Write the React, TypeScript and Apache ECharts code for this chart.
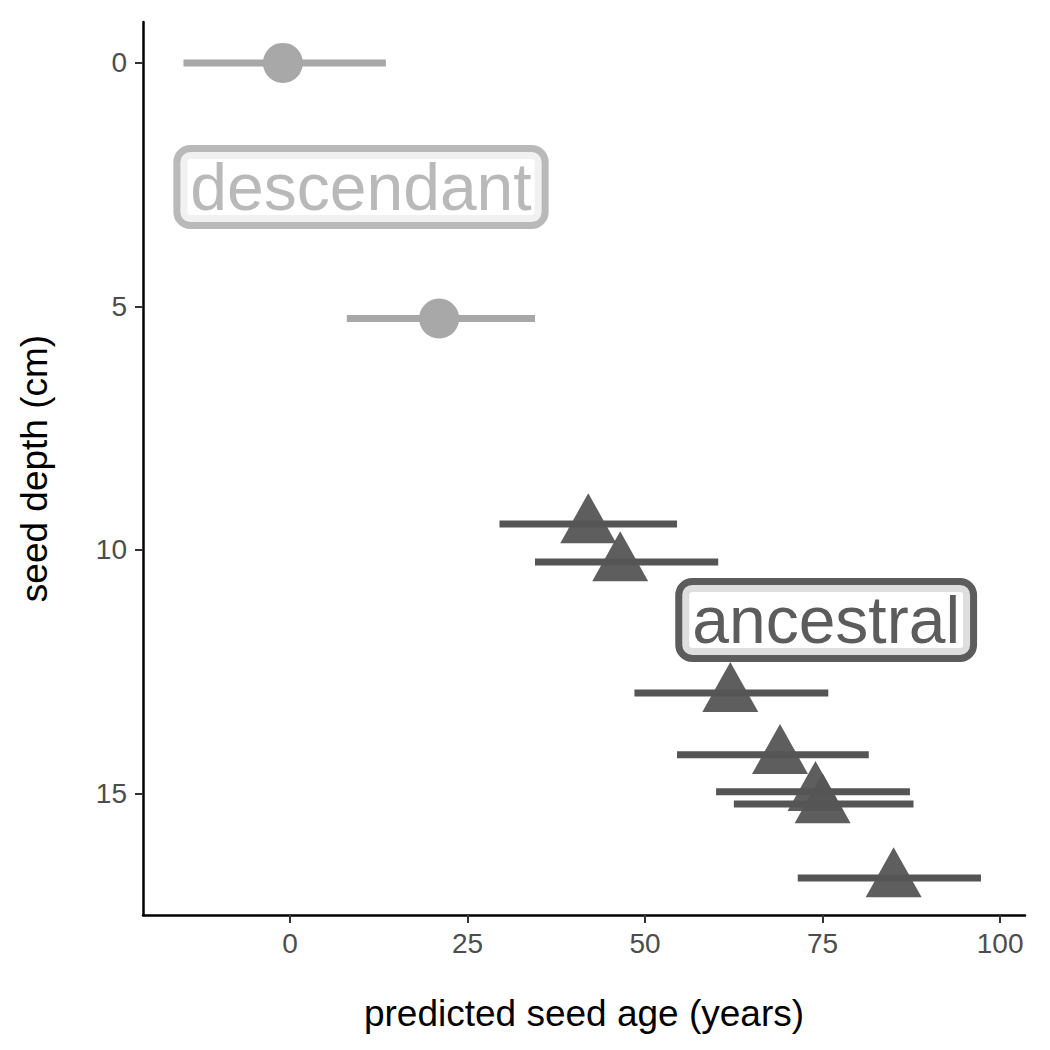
import { useEffect, useRef } from 'react'
import * as echarts from 'echarts'

// descendant: [age, depth, lo, hi]
const descendant: [number, number, number, number][] = [
  [-1, 0, -15, 13.5],
  [21, 5.25, 8, 34.5],
]
const ancestral: [number, number, number, number][] = [
  [42, 9.47, 29.5, 54.5],
  [46.5, 10.25, 34.5, 60.3],
  [62, 12.94, 48.5, 75.8],
  [69, 14.21, 54.5, 81.5],
  [74, 14.97, 60, 87.3],
  [75, 15.22, 62.5, 87.8],
  [85, 16.74, 71.5, 97.3],
]
const groupLabels: [number, number, string][] = [
  [10, 2.55, 'descendant'],
  [75.5, 11.44, 'ancestral'],
]
const xTicks = [0, 25, 50, 75, 100]
const yTicks = [0, 5, 10, 15]

const DESC = '#a8a8a8'
const ANC = '#555555'

function bars(data: [number, number, number, number][], color: string) {
  return {
    type: 'custom',
    data: data.map(([, y, lo, hi]) => [lo, hi, y]),
    renderItem: (_p: any, api: any) => {
      const a = api.coord([api.value(0), api.value(2)])
      const b = api.coord([api.value(1), api.value(2)])
      return {
        type: 'line',
        shape: { x1: a[0], y1: a[1], x2: b[0], y2: b[1] },
        style: { stroke: color, lineWidth: 7 },
      }
    },
    z: 1,
  }
}

export default function App() {
  const ref = useRef<HTMLDivElement>(null)

  useEffect(() => {
    if (!ref.current) return
    const chart = echarts.init(ref.current, undefined, { renderer: 'svg' })
    const axisLabel = { color: '#4d4d4d', fontSize: 28, fontFamily: 'Liberation Sans' }
    const axisTick = { show: true, length: 8, lineStyle: { color: '#333', width: 2 } }
    const axisCommon = {
      axisLine: { onZero: false, lineStyle: { color: '#000', width: 2.5 } },
      splitLine: { show: false },
      nameLocation: 'middle',
      nameTextStyle: { color: '#000', fontSize: 37, fontFamily: 'Liberation Sans' },
    }
    chart.setOption({
      animation: false,
      grid: { left: 130, right: 17, top: 14, bottom: 127 },
      xAxis: {
        ...axisCommon,
        type: 'value',
        min: -20.7,
        max: 103.5,
        name: 'predicted seed age (years)',
        nameGap: 80,
        axisLabel: { ...axisLabel, margin: 14, customValues: xTicks },
        axisTick: { ...axisTick, customValues: xTicks },
      },
      yAxis: {
        ...axisCommon,
        type: 'value',
        inverse: true,
        min: -0.84,
        max: 17.5,
        name: 'seed depth (cm)',
        nameGap: 90,
        axisLabel: { ...axisLabel, margin: 16, customValues: yTicks },
        axisTick: { ...axisTick, customValues: yTicks },
      },
      series: [
        bars(descendant, DESC),
        bars(ancestral, ANC),
        {
          type: 'scatter',
          data: descendant.map(([x, y]) => [x, y]),
          symbol: 'circle',
          symbolSize: 40,
          itemStyle: { color: DESC, opacity: 1 },
          z: 2,
        },
        {
          type: 'scatter',
          data: ancestral.map(([x, y]) => [x, y - 0.12]),
          symbol: 'triangle',
          symbolSize: [56, 50],
          itemStyle: { color: ANC, opacity: 0.95 },
          z: 2,
        },
        {
          type: 'scatter',
          symbolSize: 0,
          data: groupLabels.map(([x, y, t], i) => ({
            value: [x, y],
            label: {
              show: true,
              position: 'inside',
              formatter: t,
              fontSize: 66,
              fontFamily: 'Liberation Sans',
              color: i === 0 ? DESC : '#333',
              textBorderWidth: 0,
              backgroundColor: '#fff',
              borderColor: i === 0 ? DESC : '#333',
              borderWidth: 7,
              borderRadius: 10,
              padding: [4, 10, 0, 10],
            },
          })),
          z: 3,
        },
      ],
    })
    return () => chart.dispose()
  }, [])

  return <div ref={ref} style={{ width: 1034, height: 1034 }} />
}
